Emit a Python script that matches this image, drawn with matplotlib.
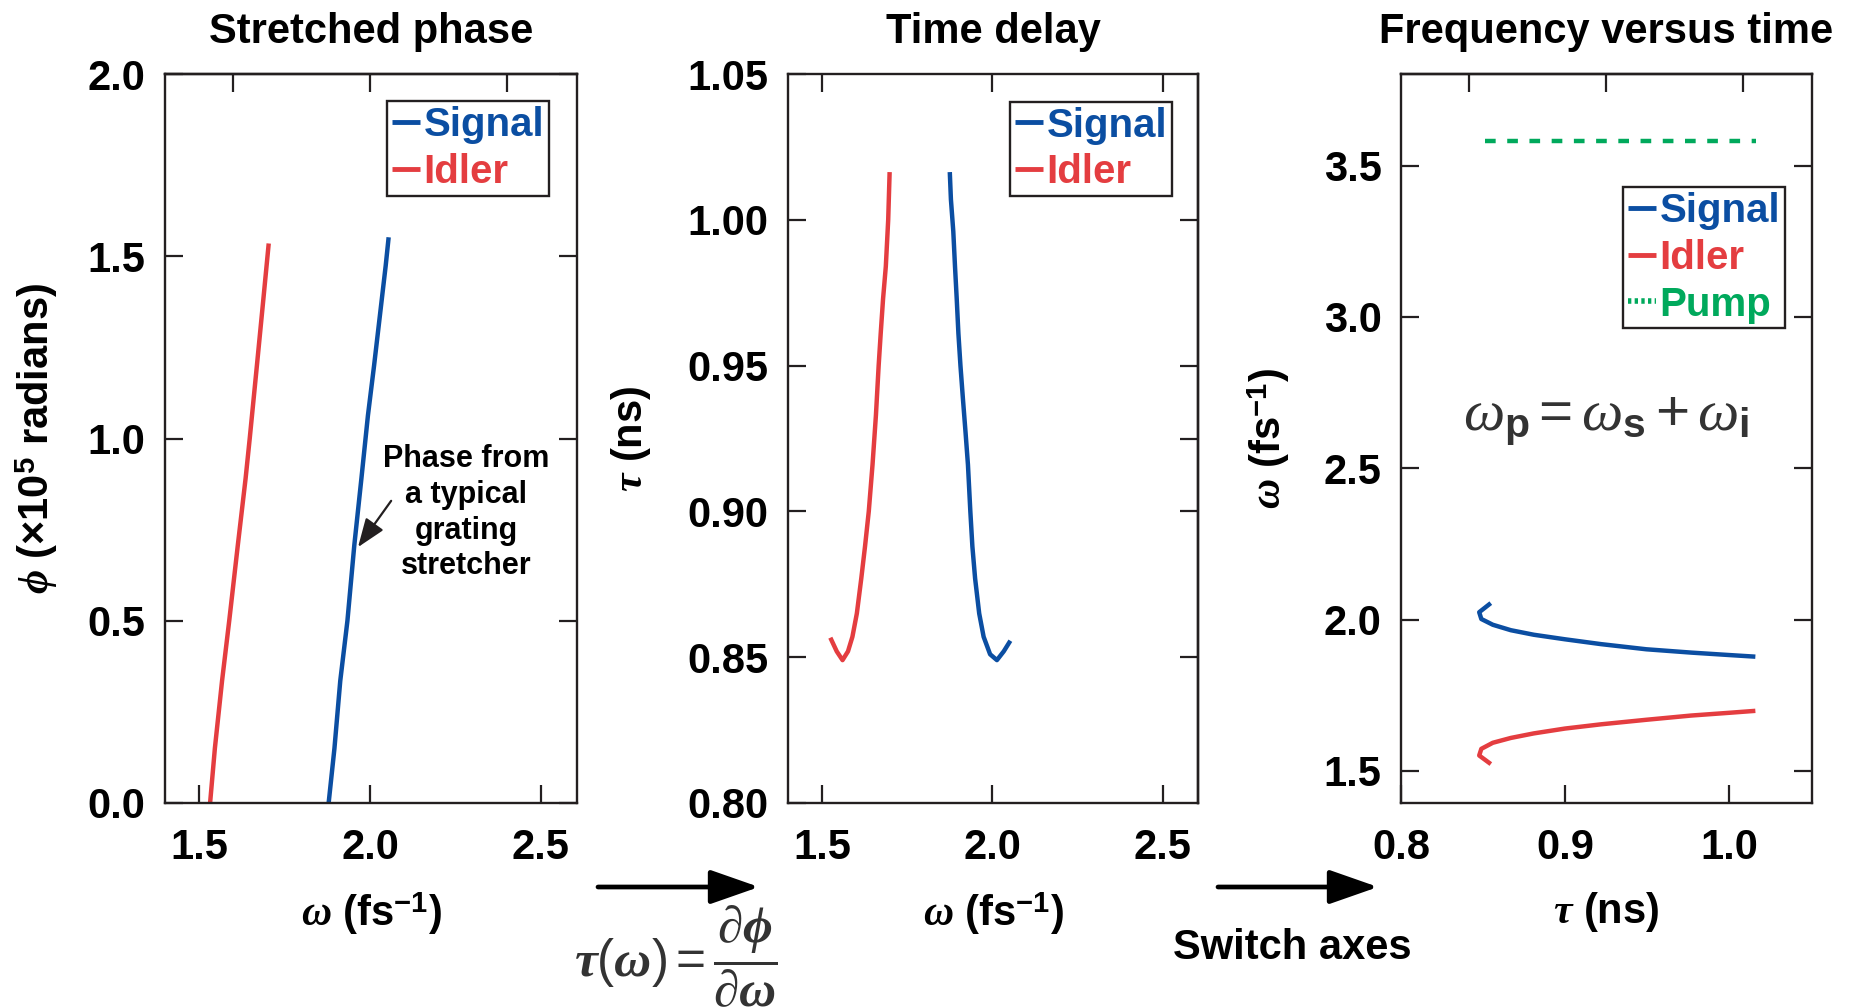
import numpy as np
import matplotlib
matplotlib.use('Agg')
import matplotlib.pyplot as plt
from matplotlib.lines import Line2D
from matplotlib.patches import FancyArrowPatch

plt.rcParams['font.family'] = ['Liberation Sans', 'DejaVu Sans']
plt.rcParams['font.weight'] = 'bold'
plt.rcParams['axes.labelweight'] = 'bold'
plt.rcParams['axes.titleweight'] = 'bold'
plt.rcParams['mathtext.fontset'] = 'custom'
plt.rcParams['mathtext.rm'] = 'Liberation Sans:normal'
plt.rcParams['mathtext.bf'] = 'Liberation Sans:bold'
plt.rcParams['mathtext.it'] = 'Liberation Serif:italic:normal'
plt.rcParams['mathtext.bfit'] = 'Liberation Serif:italic:bold'

BLUE = '#0b4ea2'
RED = '#e43d40'
GREEN = '#00a95c'
INK = '#231f20'

# --- stretched phase (omega in fs^-1, phi in 1e5 rad)
omega_sig_phase = [1.879, 1.896, 1.913, 1.934, 1.954, 1.975, 1.994, 2.012, 2.029, 2.046, 2.054]
phi_sig = [0.0, 0.15, 0.335, 0.50, 0.706, 0.891, 1.063, 1.2, 1.337, 1.474, 1.546]
omega_idl_phase = [1.532, 1.546, 1.567, 1.588, 1.613, 1.636, 1.648, 1.669, 1.688, 1.703]
phi_idl = [0.0, 0.15, 0.335, 0.50, 0.706, 0.891, 1.0, 1.2, 1.383, 1.529]

# --- time delay (omega, tau in ns)
omega_sig_delay = [1.875, 1.878, 1.885, 1.890, 1.895, 1.900, 1.906, 1.913, 1.921, 1.928,
                   1.935, 1.941, 1.949, 1.961, 1.974, 1.993, 2.013, 2.033, 2.049]
tau_sig = [1.0156, 1.007, 0.996, 0.984, 0.973, 0.961, 0.950, 0.939, 0.927, 0.916,
           0.900, 0.888, 0.877, 0.865, 0.857, 0.851, 0.849, 0.852, 0.855]
omega_idl_delay = [1.527, 1.543, 1.560, 1.576, 1.589, 1.602, 1.615, 1.626, 1.637, 1.648,
                   1.658, 1.666, 1.672, 1.679, 1.687, 1.694, 1.698]
tau_idl = [0.856, 0.852, 0.849, 0.852, 0.857, 0.865, 0.877, 0.888, 0.900, 0.916,
           0.933, 0.950, 0.961, 0.973, 0.984, 1.000, 1.0156]

# --- frequency versus time
tau_sig_ft = [0.8537, 0.8477, 0.849, 0.856, 0.867, 0.881, 0.900, 0.922, 0.9496, 0.977, 1.000, 1.0148]
omega_sig_ft = [2.050, 2.0245, 2.002, 1.983, 1.965, 1.950, 1.935, 1.919, 1.902, 1.891, 1.883, 1.878]
tau_idl_ft = [0.8537, 0.8477, 0.849, 0.856, 0.867, 0.881, 0.900, 0.922, 0.9496, 0.977, 1.000, 1.0148]
omega_idl_ft = [1.527, 1.551, 1.573, 1.593, 1.609, 1.624, 1.640, 1.654, 1.669, 1.683, 1.692, 1.698]
tau_pump = [0.851, 1.0165]
omega_pump = [3.582, 3.582]

W, H = 1858, 1008
fig = plt.figure(figsize=(W / 100, H / 100), dpi=100)

def box(x0, x1, y0=74, y1=803):
    return [x0 / W, 1 - y1 / H, (x1 - x0) / W, (y1 - y0) / H]

ax1 = fig.add_axes(box(165, 577))
ax2 = fig.add_axes(box(788, 1198))
ax3 = fig.add_axes(box(1401, 1812))

TICK = dict(direction='in', length=13, width=1.6, color=INK)

def style(ax):
    for s in ax.spines.values():
        s.set_linewidth(1.7)
        s.set_color(INK)
    ax.tick_params(labelsize=30, pad=14, **TICK)
    ax.tick_params(axis='x', pad=18)

lw = 3.2
legkw = dict(loc='upper right', fontsize=29, handlelength=0.7, handletextpad=0.08,
             labelspacing=0.22, borderpad=0.12, borderaxespad=0, fancybox=False,
             framealpha=1, edgecolor=INK, labelcolor='linecolor')
leg_handles = [Line2D([], [], color=BLUE, lw=3.5, solid_capstyle='butt'),
               Line2D([], [], color=RED, lw=3.5, solid_capstyle='butt')]

omega_label = r'$\mathbfit{\omega}$ (fs$^{\mathbf{-1}}$)'

# panel 1
ax1.plot(omega_sig_phase, phi_sig, color=BLUE, lw=lw)
ax1.plot(omega_idl_phase, phi_idl, color=RED, lw=lw)
ax1.set_xlim(1.40, 2.606)
ax1.set_ylim(0, 2.0)
ax1.set_xticks([1.5, 2.0, 2.5])
ax1.set_yticks([0.0, 0.5, 1.0, 1.5, 2.0])
ax1.set_xticklabels(['1.5', '2.0', '2.5'])
ax1.set_yticklabels(['0.0', '0.5', '1.0', '1.5', '2.0'])
style(ax1)
ax1.tick_params(right=True, top=False)
top1 = ax1.secondary_xaxis('top')
top1.set_xticks([1.6, 2.0, 2.4])
top1.set_xticklabels([])
top1.tick_params(**TICK)
top1.spines['top'].set_linewidth(1.7)
ax1.set_title('Stretched phase', fontsize=30, pad=22)
ax1.set_xlabel(omega_label, fontsize=30)
ax1.set_ylabel(r'$\mathbfit{\phi}$ (×10$^{\mathbf{5}}$ radians)', fontsize=30)
ax1.xaxis.set_label_coords(0.5, -0.12)
ax1.yaxis.set_label_coords(-0.255, 0.5)
ax1.text(0.731, 0.398, 'Phase from\na typical\ngrating\nstretcher', transform=ax1.transAxes,
         ha='center', va='center', fontsize=22, linespacing=1.25)
ax1.annotate('', xy=(1.965, 0.702), xytext=(2.062, 0.829),
             arrowprops=dict(arrowstyle='-|>,head_length=0.8,head_width=0.3',
                             color=INK, lw=1.6, mutation_scale=22, shrinkA=0, shrinkB=0))
lg = ax1.legend(leg_handles, ['Signal', 'Idler'], bbox_to_anchor=(0.932, 0.963), **legkw)
lg.get_frame().set_linewidth(1.7)

# panel 2
ax2.plot(omega_sig_delay, tau_sig, color=BLUE, lw=lw)
ax2.plot(omega_idl_delay, tau_idl, color=RED, lw=lw)
ax2.set_xlim(1.40, 2.603)
ax2.set_ylim(0.80, 1.05)
ax2.set_xticks([1.5, 2.0, 2.5])
ax2.set_xticklabels(['1.5', '2.0', '2.5'])
ax2.set_yticks([0.80, 0.85, 0.90, 0.95, 1.00, 1.05])
ax2.set_yticklabels(['0.80', '0.85', '0.90', '0.95', '1.00', '1.05'])
style(ax2)
ax2.tick_params(top=True, right=False)
right2 = ax2.secondary_yaxis('right')
right2.set_yticks([0.85, 0.90, 0.925, 0.95, 1.00])
right2.set_yticklabels([])
right2.tick_params(**TICK)
right2.spines['right'].set_linewidth(1.7)
ax2.set_title('Time delay', fontsize=30, pad=22)
ax2.set_xlabel(omega_label, fontsize=30)
ax2.set_ylabel(r'$\mathbfit{\tau}$ (ns)', fontsize=30)
ax2.xaxis.set_label_coords(0.5, -0.12)
ax2.yaxis.set_label_coords(-0.33, 0.5)
lg = ax2.legend(leg_handles, ['Signal', 'Idler'], bbox_to_anchor=(0.937, 0.962), **legkw)
lg.get_frame().set_linewidth(1.7)

# panel 3
ax3.plot(tau_sig_ft, omega_sig_ft, color=BLUE, lw=lw)
ax3.plot(tau_idl_ft, omega_idl_ft, color=RED, lw=lw)
ax3.plot(tau_pump, omega_pump, color=GREEN, lw=3.2, dashes=(2.4, 2.6))
ax3.set_xlim(0.8, 1.0507)
ax3.set_ylim(1.394, 3.803)
ax3.set_xticks([0.8, 0.9, 1.0])
ax3.set_xticklabels(['0.8', '0.9', '1.0'])
ax3.set_yticks([1.5, 2.0, 2.5, 3.0, 3.5])
ax3.set_yticklabels(['1.5', '2.0', '2.5', '3.0', '3.5'])
style(ax3)
ax3.tick_params(right=True, top=False)
x0, x1 = ax3.get_xlim()
top3 = ax3.secondary_xaxis('top')
top3.set_xticks([x0 + (x1 - x0) * f for f in (1 / 6, 1 / 2, 5 / 6)])
top3.set_xticklabels([])
top3.tick_params(**TICK)
top3.spines['top'].set_linewidth(1.7)
ax3.set_title('Frequency versus time', fontsize=30, pad=22)
ax3.set_xlabel(r'$\mathbfit{\tau}$ (ns)', fontsize=30)
ax3.set_ylabel(omega_label, fontsize=30)
ax3.xaxis.set_label_coords(0.5, -0.12)
ax3.yaxis.set_label_coords(-0.265, 0.5)
ax3.text(0.499, 0.524, r'$\omega_\mathbf{p} = \omega_\mathbf{s} + \omega_\mathbf{i}$',
         transform=ax3.transAxes, ha='center', va='center', fontsize=42, color='#333333')
h3 = leg_handles + [Line2D([], [], color=GREEN, lw=4, linestyle=(0, (0.6, 0.6)))]
lg = ax3.legend(h3, ['Signal', 'Idler', 'Pump'], bbox_to_anchor=(0.934, 0.845), **legkw)
lg.get_frame().set_linewidth(1.7)

# flow arrows and captions between panels
arrow = dict(arrowstyle='-|>,head_length=1.0,head_width=0.35', color='black',
             lw=3.4, mutation_scale=30, shrinkA=0, shrinkB=0)
fig.add_artist(FancyArrowPatch((598 / W, 1 - 887 / H), (759 / W, 1 - 887 / H),
               transform=fig.transFigure, **arrow))
fig.add_artist(FancyArrowPatch((1218 / W, 1 - 887 / H), (1378 / W, 1 - 887 / H),
               transform=fig.transFigure, **arrow))
fig.text(676 / W, 1 - 956 / H,
         r'$\mathbfit{\tau}(\mathbfit{\omega}) = \dfrac{\mathbfit{\partial\phi}}{\mathbfit{\partial\omega}}$',
         ha='center', va='center', fontsize=37, color='#333333')
fig.text(1292 / W, 1 - 948 / H, 'Switch axes', ha='center', va='center', fontsize=30)

fig.savefig('out.png', dpi=100)
